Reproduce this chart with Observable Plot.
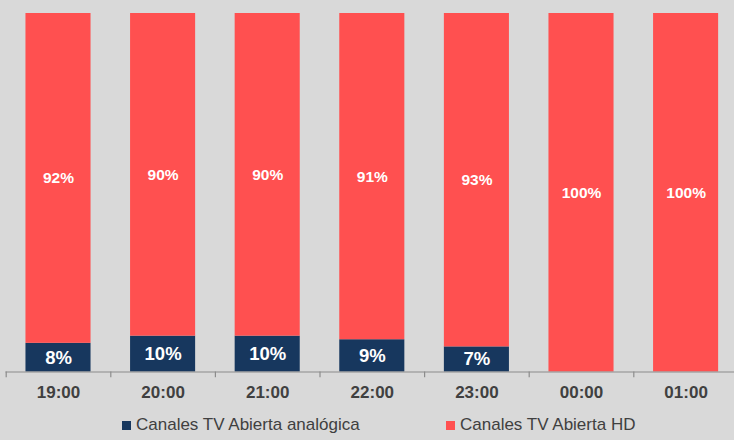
<!DOCTYPE html>
<html>
<head>
<meta charset="utf-8">
<script src="https://cdn.jsdelivr.net/npm/d3@7"></script>
<script src="https://cdn.jsdelivr.net/npm/@observablehq/plot@0.6"></script>
<style>
  html, body { margin: 0; padding: 0; background: #d9d9d9; overflow: hidden; }
  body { width: 734px; height: 440px; font-family: "Liberation Sans", Arial, sans-serif; }
  #legend { position: relative; height: 35px; color: #404040; font-size: 17px; }
  .item { position: absolute; top: 10px; display: flex; align-items: center; }
  .sw { width: 9px; height: 9px; margin-right: 5px; }
</style>
</head>
<body>
<div id="chart"></div>
<div id="legend"></div>
<script>
const hours = ["19:00", "20:00", "21:00", "22:00", "23:00", "00:00", "01:00"];
const analogica = [8, 10, 10, 9, 7, 0, 0];
const hd = [92, 90, 90, 91, 93, 100, 100];
const seriesNames = ["Canales TV Abierta analógica", "Canales TV Abierta HD"];
const seriesColors = ["#17375e", "#ff5050"];

const data = [];
hours.forEach((h, i) => {
  data.push({hour: h, serie: seriesNames[0], value: analogica[i]});
  data.push({hour: h, serie: seriesNames[1], value: hd[i]});
});

const xRange = [5.7, 737.9];
const step = (xRange[1] - xRange[0]) / hours.length;

const chart = Plot.plot({
  width: 734,
  height: 405,
  marginTop: 13,
  marginBottom: 34,
  marginLeft: 5.5,
  marginRight: 0,
  style: {background: "#d9d9d9", fontFamily: "'Liberation Sans', Arial, sans-serif", overflow: "visible"},
  x: {domain: hours, range: xRange, paddingInner: 0.378, paddingOuter: 0.189, round: false, label: null},
  y: {domain: [0, 100], range: [371.5, 13], axis: null},
  color: {domain: seriesNames, range: seriesColors},
  marks: [
    Plot.barY(data, Plot.stackY({x: "hour", y: "value", fill: "serie", z: "serie", order: seriesNames,
      filter: d => d.value > 0,
      style: {filter: "drop-shadow(1px -1px 0.4px rgba(0,0,0,0.35))"}})),
    Plot.text(data, Plot.stackY({x: "hour", y: "value", z: "serie", order: seriesNames,
      filter: d => d.value > 0,
      text: d => d.value + "%",
      fill: "white", fontWeight: "bold",
      fontSize: d => d.serie === seriesNames[0] ? 18.5 : 15.5})),
    Plot.ruleY([0], {stroke: "#8c8c8c", strokeWidth: 1.2}),
    Plot.ruleX(hours, {x: d => d, dx: -step / 2, y1: 0, y2: -1.6, stroke: "#8c8c8c", strokeWidth: 1.2}),
    Plot.axisX({tickSize: 0, tickPadding: 14.5, fontSize: 17, fontWeight: "bold", color: "#404040", label: null})
  ]
});
document.getElementById("chart").appendChild(chart);

const legend = document.getElementById("legend");
const lefts = [122, 446];
seriesNames.forEach((s, i) => {
  const it = document.createElement("div");
  it.className = "item";
  it.style.left = lefts[i] + "px";
  it.innerHTML = `<span class="sw" style="background:${seriesColors[i]}"></span><span>${s}</span>`;
  legend.appendChild(it);
});
</script>
</body>
</html>
